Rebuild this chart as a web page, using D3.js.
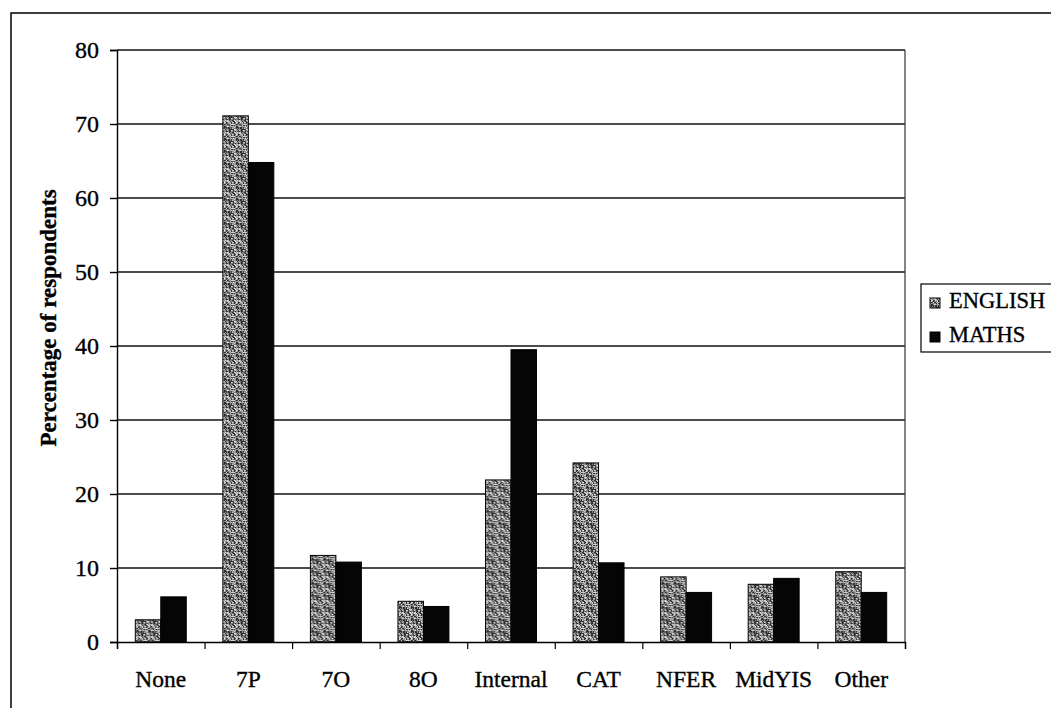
<!DOCTYPE html>
<html>
<head>
<meta charset="utf-8">
<script src="https://cdn.jsdelivr.net/npm/d3@7"></script>
<style>
  html, body { margin: 0; padding: 0; background: #fff; }
  svg { display: block; }
  svg text { font-family: "Liberation Serif", "Times New Roman", serif !important; fill: #000; stroke: #000; stroke-width: 0.35px; }
</style>
</head>
<body>
<svg id="chart" width="1051" height="708"></svg>
<script>
// Assessment used, by subject (percentage of respondents)
const categories = ["None", "7P", "7O", "8O", "Internal", "CAT", "NFER", "MidYIS", "Other"];
const seriesNames = ["ENGLISH", "MATHS"];
const english = [3.0, 71.1, 11.7, 5.5, 21.9, 24.2, 8.8, 7.8, 9.5];
const maths = [6.1, 64.8, 10.8, 4.8, 39.5, 10.7, 6.7, 8.6, 6.7];
const yTicks = [0, 10, 20, 30, 40, 50, 60, 70, 80];
const yTitle = "Percentage of respondents";

const svg = d3.select("#chart");

// stippled grey texture for the ENGLISH bars (fixed irregular dot layout)
const defs = svg.append("defs");
const P = 12;
const pat = defs.append("pattern")
  .attr("id", "stipple").attr("patternUnits", "userSpaceOnUse")
  .attr("width", P).attr("height", P);
pat.append("rect").attr("width", P).attr("height", P).attr("fill", "#8e8e8e");
const dots = [];
for (let yy = 0; yy < P; yy++) {
  for (let xx = 0; xx < P; xx++) {
    const h = ((xx * 73856093) ^ (yy * 19349663) ^ 0x5bd1e995) >>> 0;
    const k = (h % 97) / 97;
    if (k < 0.34) dots.push({ x: xx, y: yy, c: "#2e2e2e" });
    else if (k > 0.72) dots.push({ x: xx, y: yy, c: "#d4d4d4" });
  }
}
pat.selectAll("rect.dot").data(dots).join("rect").attr("class", "dot")
  .attr("x", d => d.x).attr("y", d => d.y)
  .attr("width", 1).attr("height", 1).attr("fill", d => d.c);

const fills = { ENGLISH: "url(#stipple)", MATHS: "#050505" };

// outer chart frame
svg.append("rect")
  .attr("x", 11).attr("y", 13).attr("width", 1100).attr("height", 800)
  .attr("fill", "none").attr("stroke", "#000").attr("stroke-width", 1.5);

const plot = { left: 117, right: 905, top: 50, bottom: 642 };

const x0 = d3.scaleBand()
  .domain(categories)
  .range([plot.left, plot.right])
  .paddingInner(0.418)
  .paddingOuter(0.209);

const x1 = d3.scaleBand()
  .domain(seriesNames)
  .range([0, x0.bandwidth()]);

const y = d3.scaleLinear().domain([0, 80]).range([plot.bottom, plot.top]);

// category boundaries for the x tick marks
const xEdges = d3.scaleLinear().domain([0, categories.length]).range([plot.left, plot.right]);

// horizontal gridlines
svg.append("g")
  .selectAll("line")
  .data(yTicks.filter(d => d > 0))
  .join("line")
  .attr("x1", plot.left).attr("x2", plot.right)
  .attr("y1", d => y(d)).attr("y2", d => y(d))
  .attr("stroke", "#111").attr("stroke-width", 1.4);

// right edge of the plot area
svg.append("line")
  .attr("x1", plot.right).attr("x2", plot.right)
  .attr("y1", plot.top).attr("y2", plot.bottom)
  .attr("stroke", "#333").attr("stroke-width", 1.2);

// bars
const rows = categories.map((c, i) => ({ category: c, ENGLISH: english[i], MATHS: maths[i] }));
svg.append("g")
  .selectAll("g")
  .data(rows)
  .join("g")
  .attr("transform", d => `translate(${x0(d.category)},0)`)
  .selectAll("rect")
  .data(d => seriesNames.map(s => ({ series: s, value: d[s] })))
  .join("rect")
  .attr("x", d => x1(d.series))
  .attr("width", x1.bandwidth())
  .attr("y", d => y(d.value))
  .attr("height", d => y(0) - y(d.value))
  .attr("fill", d => fills[d.series])
  .attr("stroke", "#000").attr("stroke-width", 1);

// y axis
const yAxis = svg.append("g")
  .attr("transform", `translate(${plot.left},0)`)
  .call(d3.axisLeft(y).tickValues(yTicks).tickSize(7).tickPadding(11).tickFormat(d3.format("d")));
yAxis.select(".domain").attr("stroke", "#000").attr("stroke-width", 1.4);
yAxis.selectAll(".tick line").attr("stroke", "#000").attr("stroke-width", 1.4);
yAxis.selectAll(".tick text").style("font-size", "24px");

// x axis: tick marks on category boundaries
const xAxis = svg.append("g")
  .attr("transform", `translate(0,${plot.bottom})`)
  .call(d3.axisBottom(xEdges).tickValues(d3.range(categories.length + 1)).tickSize(7).tickFormat(""));
xAxis.select(".domain").attr("stroke", "#000").attr("stroke-width", 1.4);
xAxis.selectAll(".tick line").attr("stroke", "#000").attr("stroke-width", 1.2);

// category labels
svg.append("g")
  .selectAll("text")
  .data(categories)
  .join("text")
  .attr("x", d => x0(d) + x0.bandwidth() / 2)
  .attr("y", 687)
  .attr("text-anchor", "middle")
  .style("font-size", "23.5px")
  .text(d => d);

// y axis title
svg.append("text")
  .attr("transform", `translate(56,318) rotate(-90)`)
  .attr("text-anchor", "middle")
  .style("font-size", "23px").style("font-weight", "bold")
  .text(yTitle);

// legend
const legend = svg.append("g");
legend.append("rect")
  .attr("x", 921).attr("y", 284).attr("width", 200).attr("height", 68)
  .attr("fill", "#fff").attr("stroke", "#000").attr("stroke-width", 1.2);
const items = legend.selectAll("g.item")
  .data(seriesNames)
  .join("g").attr("class", "item")
  .attr("transform", (d, i) => `translate(930,${298 + i * 34})`);
items.append("rect")
  .attr("width", 10).attr("height", 10)
  .attr("fill", d => fills[d]).attr("stroke", "#000").attr("stroke-width", 1);
items.append("text")
  .attr("x", 19).attr("y", 10)
  .style("font-size", "22.5px")
  .text(d => d);
</script>
</body>
</html>
